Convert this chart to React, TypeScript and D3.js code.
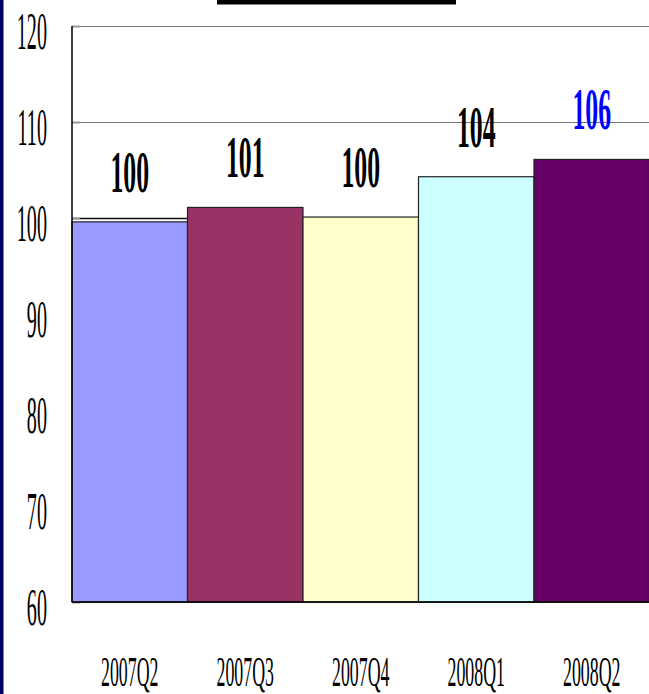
import React from "react";
import * as d3 from "d3";

// Quarterly index values
const categories = ["2007Q2", "2007Q3", "2007Q4", "2008Q1", "2008Q2"];
const values = [99.6, 101.1, 100.1, 104.3, 106.1];
const barColors = ["#9999FF", "#993366", "#FFFFCC", "#CCFFFF", "#660066"];
const labelColors = ["#000000", "#000000", "#000000", "#000000", "#0000FF"];
const yTicks = [60, 70, 80, 90, 100, 110, 120];

const W = 649;
const H = 694;
const plot = { left: 72, right: 649.5, top: 26, bottom: 602 };

export default function App() {
  const x = d3
    .scaleBand<string>()
    .domain(categories)
    .range([plot.left, plot.right])
    .padding(0);
  const y = d3.scaleLinear().domain([60, 120]).range([plot.bottom, plot.top]);
  const fmt = d3.format(".0f");
  const serif = "'Liberation Serif', 'Times New Roman', serif";

  return (
    <svg
      width={W}
      height={H}
      style={{ position: "absolute", left: 0, top: 0, background: "#fff" }}
    >
      {/* dark edge on the left */}
      <rect x={0} y={0} width={3.5} height={H} fill="#000066" />
      {/* bottom edge of the title box */}
      <rect x={217} y={0} width={239} height={4.5} fill="#000" />

      {/* gridlines and ticks */}
      {yTicks.map((t) => (
        <g key={t}>
          <line
            x1={plot.left}
            x2={W}
            y1={Math.round(y(t)) + 0.5}
            y2={Math.round(y(t)) + 0.5}
            stroke={t === 100 ? "#111" : "#777"}
            strokeWidth={t === 100 ? 1.5 : 1}
          />
          <line
            x1={plot.left}
            x2={plot.left + 8}
            y1={Math.round(y(t)) + 0.5}
            y2={Math.round(y(t)) + 0.5}
            stroke="#999"
            strokeWidth={2}
          />
          <text
            transform={`translate(47,${y(t) + 23}) scale(0.38,1)`}
            textAnchor="end"
            fontFamily={serif}
            fontSize={53}
            fill="#000"
          >
            {t}
          </text>
        </g>
      ))}

      {/* bars */}
      {categories.map((c, i) => (
        <rect
          key={c}
          x={x(c)!}
          y={y(values[i])}
          width={x.bandwidth()}
          height={plot.bottom - y(values[i])}
          fill={barColors[i]}
          stroke="#222"
          strokeWidth={1.2}
        />
      ))}

      {/* axes */}
      <line
        x1={plot.left}
        x2={plot.left}
        y1={plot.top}
        y2={plot.bottom}
        stroke="#000"
        strokeWidth={1.5}
      />
      <line
        x1={plot.left}
        x2={W}
        y1={plot.bottom}
        y2={plot.bottom}
        stroke="#000"
        strokeWidth={1.5}
      />

      {/* value labels */}
      {categories.map((c, i) => (
        <text
          key={c}
          transform={`translate(${x(c)! + x.bandwidth() / 2},${
            y(values[i]) - 30
          }) scale(0.43,1)`}
          textAnchor="middle"
          fontFamily={serif}
          fontWeight="bold"
          fontSize={60}
          fill={labelColors[i]}
        >
          {fmt(values[i])}
        </text>
      ))}

      {/* category labels */}
      {categories.map((c) => (
        <text
          key={c}
          transform={`translate(${x(c)! + x.bandwidth() / 2},686) scale(0.43,1)`}
          textAnchor="middle"
          fontFamily={serif}
          fontSize={41.5}
          fill="#000"
        >
          {c}
        </text>
      ))}
    </svg>
  );
}
